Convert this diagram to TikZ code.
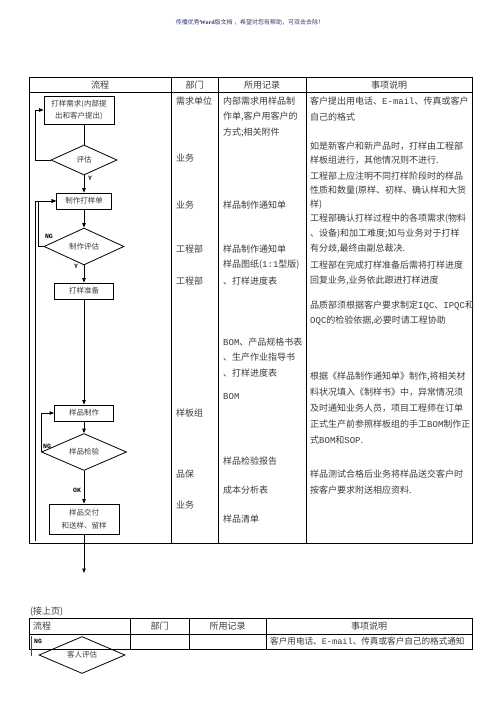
\documentclass[tikz,border=0pt]{standalone}
\usepackage{fontspec}
\setmainfont{Noto Sans CJK SC}
\newfontfamily\monofont{Liberation Mono}
\newfontfamily\serifen{Liberation Serif}
\usetikzlibrary{arrows.meta,shapes.geometric}
\definecolor{wmblue}{RGB}{50,60,110}
\definecolor{txtgray}{RGB}{60,60,60}
\newcommand\en[1]{{\monofont #1}}
\begin{document}
\begin{tikzpicture}[x=1pt,y=-1pt,
 cell/.style={inner sep=0pt,anchor=west,text=txtgray,font=\fontsize{9}{11}\selectfont},
 head/.style={cell,anchor=center},
 fbox/.style={draw=black,line width=0.8pt,inner sep=0pt,text=txtgray,font=\fontsize{7.5}{12.5}\selectfont,align=center},
 fdia/.style={draw=black,line width=0.8pt,diamond,inner sep=0pt,text=txtgray,font=\fontsize{7.5}{9}\selectfont},
 lbl/.style={inner sep=0pt,font=\monofont\bfseries\fontsize{6.5}{7}\selectfont},
 rule/.style={line width=1pt,black},
 link/.style={line width=0.8pt,black},
 arr/.style={link,-{Triangle[length=4.5pt,width=3.5pt]}},
]
\useasboundingbox (0,0) rectangle (496,701);
\fill[white] (0,0) rectangle (496,701);

% watermark
\node[inner sep=0pt,text=wmblue,font=\fontsize{6}{7}\selectfont] (wm) at (250,22) {传播优秀{\serifen\bfseries Word}版文档 ，希望对您有帮助，可双击去除！};

% ---------- table 1 ----------
\draw[rule] (29,77) rectangle (472,543);
\draw[rule] (29,92) -- (472,92);
\draw[rule] (171,77) -- (171,543);
\draw[rule] (218,77) -- (218,543);
\draw[rule] (306,77) -- (306,543);

\node[head] (h1) at (100,85) {流程};
\node[head] (h2) at (194.5,85) {部门};
\node[head] (h3) at (262,85) {所用记录};
\node[head] (h4) at (389,85) {事项说明};

% department column
\node[cell] (p1) at (176,101) {需求单位};
\node[cell] (p2) at (176,158) {业务};
\node[cell] (p3) at (176,205) {业务};
\node[cell] (p4) at (176,249) {工程部};
\node[cell] (p5) at (176,281) {工程部};
\node[cell] (p6) at (176,413) {样板组};
\node[cell] (p7) at (176,474) {品保};
\node[cell] (p8) at (176,505) {业务};

% records column
\node[cell] (r1) at (223,101) {内部需求用样品制};
\node[cell] (r2) at (223,117) {作单,客户用客户的};
\node[cell] (r3) at (223,133) {方式;相关附件};
\node[cell] (r4) at (223,205) {样品制作通知单};
\node[cell] (r5) at (223,249) {样品制作通知单};
\node[cell] (r6) at (223,265) {样品图纸(\en{1:1}型版)};
\node[cell] (r7) at (223,281) {、打样进度表};
\node[cell] (r8) at (223,342) {\en{BOM}、产品规格书表};
\node[cell] (r9) at (223,357) {、生产作业指导书};
\node[cell] (r10) at (223,373) {、打样进度表};
\node[cell] (r11) at (223,397) {\en{BOM}};
\node[cell] (r12) at (223,461) {样品检验报告};
\node[cell] (r13) at (223,490) {成本分析表};
\node[cell] (r14) at (223,519) {样品清单};

% notes column
\node[cell] (n1) at (310,101) {客户提出用电话、\en{E-mail}、传真或客户};
\node[cell] (n2) at (310,117) {自己的格式};
\node[cell] (n3) at (310,146) {如是新客户和新产品时，打样由工程部};
\node[cell] (n4) at (310,160) {样板组进行，其他情况则不进行.};
\node[cell] (n5) at (310,176) {工程部上应注明不同打样阶段时的样品};
\node[cell] (n6) at (310,191) {性质和数量(原样、初样、确认样和大货};
\node[cell] (n7) at (310,205) {样)};
\node[cell] (n8) at (310,219) {工程部确认打样过程中的各项需求(物料};
\node[cell] (n9) at (310,234) {、设备)和加工难度;如与业务对于打样};
\node[cell] (n10) at (310,249) {有分歧,最终由副总裁决.};
\node[cell] (n11) at (310,265) {工程部在完成打样准备后需将打样进度};
\node[cell] (n12) at (310,281) {回复业务,业务依此跟进打样进度};
\node[cell] (n13) at (310,306) {品质部须根据客户要求制定\en{IQC}、\en{IPQC}和};
\node[cell] (n14) at (310,321) {\en{OQC}的检验依据,必要时请工程协助};
\node[cell] (n15) at (310,377) {根据《样品制作通知单》制作,将相关材};
\node[cell] (n16) at (310,392) {料状况填入《制样书》中，异常情况须};
\node[cell] (n17) at (310,408) {及时通知业务人员，项目工程师在订单};
\node[cell] (n18) at (310,424) {正式生产前参照样板组的手工\en{BOM}制作正};
\node[cell] (n19) at (310,440) {式\en{BOM}和\en{SOP}.};
\node[cell] (n20) at (310,474) {样品测试合格后业务将样品送交客户时};
\node[cell] (n21) at (310,490) {按客户要求附送相应资料.};

% flow
\node[fbox,minimum width=70pt,minimum height=28pt] (b1) at (79,110) {打样需求(内部提\\出和客户提出)};
\node[fdia,minimum width=66pt,minimum height=30pt] (d1) at (84,160) {评估};
\node[fbox,minimum width=55pt,minimum height=16pt] (b2) at (84,201) {制作打样单};
\node[fdia,minimum width=80pt,minimum height=29pt] (d2) at (84,246.5) {制作评估};
\node[fbox,minimum width=59pt,minimum height=16pt] (b3) at (84,291) {打样准备};
\node[fbox,minimum width=59pt,minimum height=16pt] (b4) at (84,413) {样品制作};
\node[fdia,minimum width=85pt,minimum height=30pt] (d3) at (84,452) {样品检验};
\node[fbox,minimum width=70pt,minimum height=30pt] (b5) at (84,519) {样品交付\\和送样、留样};
\coordinate (exit) at (84,573);
\coordinate (ret) at (35,541);

\draw[link] (b1.south -| d1.north) -- (d1.north);
\draw[arr] (d1.south) -- (b2.north);
\draw[arr] (b2.south) -- (d2.north);
\draw[arr] (d2.south) -- (b3.north);
\draw[arr] (b3.south) -- (b4.north);
\draw[arr] (b4.south) -- (d3.north);
\draw[arr] (d3.south) -- (b5.north);
\draw[arr] (b5.south) -- (exit);

\draw[arr] (d1.west) -- ++(-15,0) |- (b1.west);
\draw[arr] (d2.west) -- ++(-5,0) |- (b2.west);
\draw[arr] (ret) |- (b2.west);
\draw[arr] (d3.west) |- (b4.west);

\node[lbl] (y1) at (90,178) {Y};
\node[lbl] (ng1) at (49,236) {NG};
\node[lbl] (y2) at (76,266) {Y};
\node[lbl] (ng2) at (47,446) {NG};
\node[lbl] (ok) at (77,490) {OK};

% ---------- table 2 ----------
\node[cell] (jie) at (30,612) {(接上页)};
\draw[rule] (29,618) rectangle (472,649);
\draw[rule] (29,634) -- (472,634);
\draw[rule] (130,618) -- (130,649);
\draw[rule] (189,618) -- (189,649);
\draw[rule] (266,618) -- (266,649);
\node[cell] (k1) at (33,626) {流程};
\node[head] (k2) at (159.5,626) {部门};
\node[head] (k3) at (227.5,626) {所用记录};
\node[head] (k4) at (369,626) {事项说明};
\node[lbl,anchor=west] (ng3) at (34,641) {NG};
\node[cell,font=\fontsize{8.6}{10}\selectfont] (m1) at (270,641) {客户用电话、\en{E-mail}、传真或客户自己的格式通知};
\node[fdia,minimum width=86pt,minimum height=30pt] (d4) at (82,655) {客人评估};
\coordinate (r2a) at (31.5,636);
\coordinate (r2b) at (31.5,656);
\draw[line width=1.5pt,black!70] (r2a) -- (r2b);
\end{tikzpicture}
\end{document}
